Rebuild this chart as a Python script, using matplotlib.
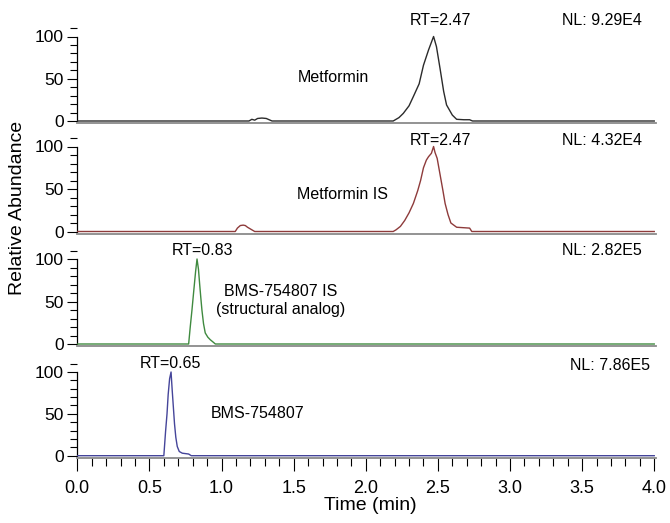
import matplotlib
matplotlib.use("Agg")
import matplotlib.pyplot as plt
from matplotlib.ticker import MultipleLocator

plt.rcParams["font.family"] = ["Liberation Sans", "DejaVu Sans"]

# chromatogram traces: time (min) and relative abundance (%)
metformin_t = [0.0, 1.19, 1.21, 1.23, 1.25, 1.28, 1.31, 1.35, 2.19, 2.23, 2.26, 2.30,
               2.33, 2.37, 2.40, 2.435, 2.47, 2.49, 2.515, 2.54, 2.56, 2.60, 2.63,
               2.68, 2.72, 2.74, 4.0]
metformin_y = [0, 0, 2, 1, 3, 3.5, 3, 0, 0, 4, 9, 18, 29, 44, 66, 84, 100, 88, 62,
               35, 19, 7, 2, 1.5, 1.5, 0, 0]

metformin_is_t = [0.0, 1.095, 1.11, 1.13, 1.15, 1.165, 1.18, 1.20, 1.23, 2.19, 2.21,
                  2.24, 2.27, 2.30, 2.33, 2.36, 2.38, 2.40, 2.42, 2.435, 2.455, 2.47,
                  2.48, 2.495, 2.515, 2.535, 2.55, 2.57, 2.59, 2.63, 2.72, 2.735, 4.0]
metformin_is_y = [0, 0, 4, 7, 7.5, 7, 5, 3, 0, 0, 2, 6, 13, 22, 33, 48, 60, 75, 84,
                  88, 92, 100, 93, 86, 67, 48, 33, 20, 10, 5, 4, 0, 0]

bms_is_t = [0.0, 0.772, 0.783, 0.795, 0.806, 0.82, 0.83, 0.84, 0.848, 0.856, 0.864,
            0.875, 0.887, 0.905, 0.922, 0.94, 0.957, 4.0]
bms_is_y = [0, 0, 20, 40, 60, 85, 100, 88, 71, 55, 40, 24, 13, 8, 5, 2.5, 0, 0]

bms_t = [0.0, 0.60, 0.612, 0.622, 0.63, 0.64, 0.65, 0.658, 0.666, 0.674, 0.683,
         0.693, 0.707, 0.728, 0.75, 0.772, 0.79, 4.0]
bms_y = [0, 0, 29, 50, 73, 92, 100, 78, 58, 38, 22, 11, 5, 3, 2.5, 2, 0, 0]

names = ["Metformin", "Metformin IS", "BMS-754807 IS\n(structural analog)", "BMS-754807"]
rt_values = [2.47, 2.47, 0.83, 0.65]
nl_values = ["9.29E4", "4.32E4", "2.82E5", "7.86E5"]
traces = [(metformin_t, metformin_y), (metformin_is_t, metformin_is_y),
          (bms_is_t, bms_is_y), (bms_t, bms_y)]
colors = ["#2b2b2b", "#8e3b3b", "#3f8a3f", "#45459a"]

W, H = 670, 523
# pixel rows of the 100 % and 0 % levels for each panel
levels = [(36.5, 121.0), (146.5, 231.5), (259.0, 344.0), (372.0, 455.7)]
y_lo, y_hi = -2.5, 112
x_left, x_right = 77.3, 655.7

# where the text sits in each panel (data coords)
rt_pos = [(2.52, 119), (2.52, 107), (0.867, 109.5), (0.645, 110)]
nl_pos = [(3.64, 119), (3.64, 107), (3.64, 109.5), (3.69, 108)]
name_pos = [(1.775, 52), (1.84, 43), (1.41, 51), (1.25, 51)]

fig = plt.figure(figsize=(W / 100, H / 100), dpi=100)

for i, (p100, p0) in enumerate(levels):
    s = (p0 - p100) / 100
    top = p0 - y_hi * s
    bottom = p0 - y_lo * s
    ax = fig.add_axes([x_left / W, 1 - bottom / H, (x_right - x_left) / W, (bottom - top) / H])

    t, y = traces[i]
    ax.plot(t, y, color=colors[i], lw=1.0, zorder=3)

    ax.set_xlim(0, 4.01)
    ax.set_ylim(y_lo, y_hi)
    ax.patch.set_alpha(0)
    for side in ("top", "right"):
        ax.spines[side].set_visible(False)
    ax.spines["left"].set_bounds(0, 100)
    ax.spines["left"].set_linewidth(0.9)
    ax.spines["bottom"].set_color("#8a8a8a")
    ax.spines["bottom"].set_linewidth(1.3)

    ax.set_yticks([0, 50, 100])
    ax.yaxis.set_minor_locator(MultipleLocator(10))
    ax.tick_params(axis="y", which="major", length=7.5, width=0.8, labelsize=12.5, pad=2)
    ax.tick_params(axis="y", which="minor", length=5, width=0.8)

    if i < 3:
        ax.set_xticks([])
        ax.tick_params(axis="x", which="both", length=0)
    else:
        xt = [0, 0.5, 1.0, 1.5, 2.0, 2.5, 3.0, 3.5, 4.0]
        ax.set_xticks(xt)
        ax.set_xticklabels([f"{v:.1f}" for v in xt])
        ax.xaxis.set_minor_locator(MultipleLocator(0.1))
        ax.tick_params(axis="x", which="major", length=9, width=0.8, labelsize=13, pad=7)
        ax.tick_params(axis="x", which="minor", length=6, width=0.8)

    ax.text(rt_pos[i][0], rt_pos[i][1], f"RT={rt_values[i]:.2f}", ha="center", va="center",
            fontsize=11.5)
    ax.text(nl_pos[i][0], nl_pos[i][1], f"NL: {nl_values[i]}", ha="center", va="center",
            fontsize=11.5)
    ax.text(name_pos[i][0], name_pos[i][1], names[i], ha="center", va="center",
            fontsize=11.5, linespacing=1.2)

fig.text(0.026, 0.602, "Relative Abundance", rotation=90, ha="center", va="center",
         fontsize=14)
fig.text(0.552, 0.034, "Time (min)", ha="center", va="center", fontsize=14)

fig.savefig("out.png", dpi=100)
